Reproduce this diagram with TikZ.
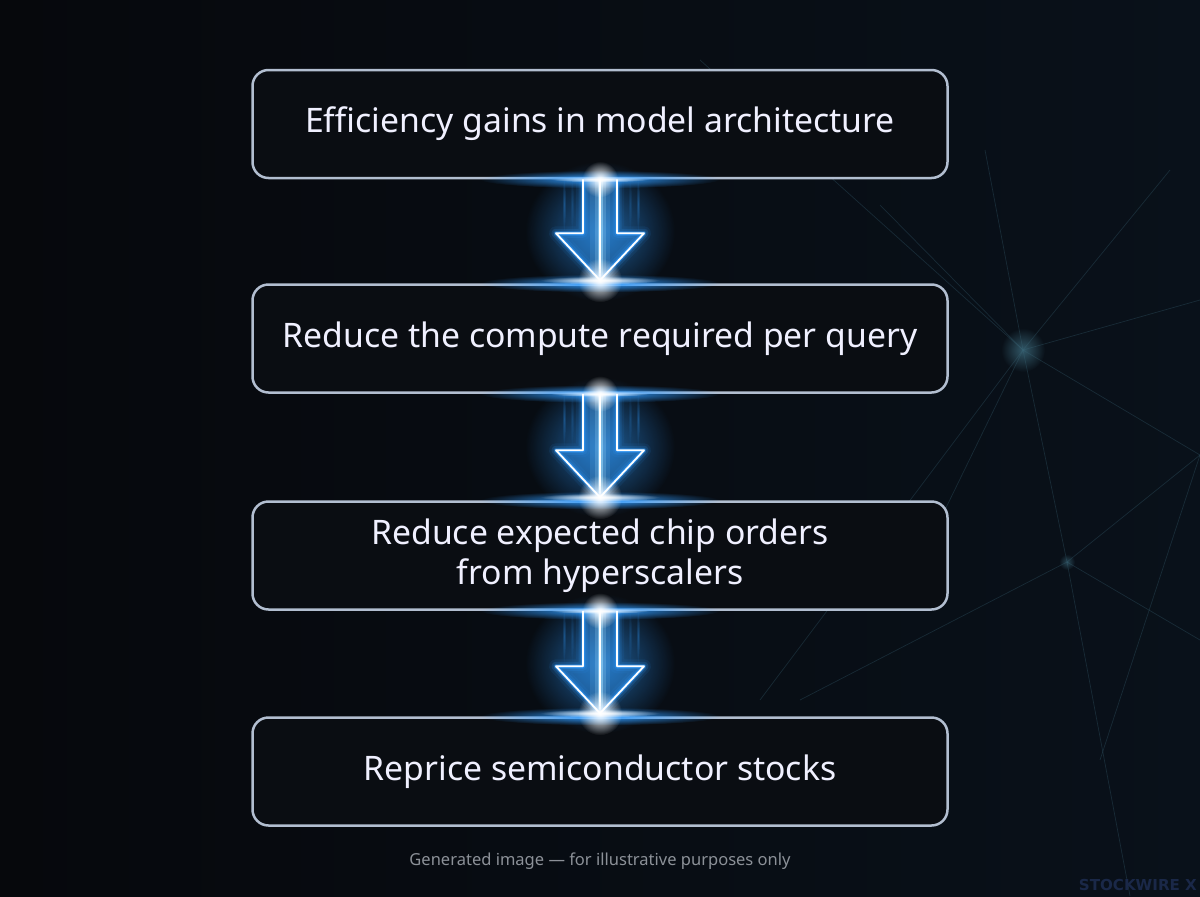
\documentclass[tikz,border=0pt]{standalone}
\usepackage{fontspec}
\setmainfont{Noto Sans}
\newfontfamily\brandfont{DejaVu Sans}
\usetikzlibrary{calc,fadings}
\definecolor{bgdark}{HTML}{06080C}
\definecolor{bgright}{HTML}{09111A}
\definecolor{boxfill}{HTML}{0A0D12}
\definecolor{boxline}{HTML}{B2BED0}
\definecolor{glowblue}{HTML}{2F9BFF}
\definecolor{glowcyan}{HTML}{A8E2FF}
\definecolor{starline}{HTML}{3C6A7C}
\definecolor{notegray}{HTML}{8C9198}
\definecolor{markblue}{HTML}{1A2848}
\tikzfading[name=softglow, inner color=transparent!0, outer color=transparent!100]
\begin{document}
\begin{tikzpicture}[
  x=0.02cm,
  y=-0.02cm,
  stepbox/.style={draw=boxline, fill=boxfill, line width=2.5*0.02cm, rounded corners=16*0.02cm,
    minimum width=695*0.02cm, minimum height=108*0.02cm, align=center, text=white!94!blue,
    font=\fontsize{19.2}{23}\selectfont},
  star/.style={starline, line width=0.7*0.02cm, opacity=0.3},
  note/.style={text=notegray, font=\fontsize{9.4}{11}\selectfont}
]
\useasboundingbox (0,0) rectangle (1200,896);
\shade[left color=bgdark, right color=bgright] (0,0) rectangle (1200,896);

% faint constellation on the right
\coordinate (hub) at (1023,350);
\coordinate (low) at (1067,562);
\coordinate (edge) at (1200,455);
\foreach \p in {(700,60), (880,205), (985,150), (1170,170), (1200,300), (940,520), (760,700)} {
  \draw[star] (hub) -- \p;
}
\draw[star] (hub) -- (edge);
\draw[star] (hub) -- (low);
\draw[star] (low) -- (edge);
\draw[star] (low) -- (800,700);
\draw[star] (low) -- (1200,640);
\draw[star] (low) -- (1130,896);
\draw[star] (edge) -- (1100,760);
\fill[starline, path fading=softglow, opacity=0.8] (hub) circle (22);
\fill[starline, path fading=softglow, opacity=0.6] (low) circle (8);

\node[stepbox] (gains) at (600,124) {Efficiency gains in model architecture};
\node[stepbox] (compute) at (600,338.5) {Reduce the compute required per query};
\node[stepbox] (orders) at (600,555.5) {Reduce expected chip orders\\from hyperscalers};
\node[stepbox] (reprice) at (600,771.5) {Reprice semiconductor stocks};

\foreach \a/\b in {gains/compute, compute/orders, orders/reprice} {
  % flares on the box edges
  \fill[glowblue, path fading=softglow] (\a.south) ellipse (120 and 9);
  \fill[glowblue, path fading=softglow] (\b.north) ellipse (120 and 9);
  \fill[glowblue, path fading=softglow, opacity=0.6] ($(\a.south)!0.5!(\b.north)$) ellipse (75 and 70);
  % light streaks
  \foreach \dx/\o in {-36/0.35, -28/0.2, 30/0.2, 38/0.35} {
    \fill[glowblue, path fading=softglow, opacity=\o] ($(\a.south)+(\dx,25)$) ellipse (2 and 28);
  }
  % inner light
  \fill[glowblue, opacity=0.4] ($(\a.south)+(-17,0)$) -- ($(\b.north)+(-17,-50)$) -- ($(\b.north)+(-44,-50)$)
    -- ($(\b.north)+(0,-3)$) -- ($(\b.north)+(44,-50)$) -- ($(\b.north)+(17,-50)$) -- ($(\a.south)+(17,0)$) -- cycle;
  \foreach \w/\o in {20/0.1, 11/0.22, 5/0.5} {
    \draw[glowcyan, line width=\w*0.02cm, opacity=\o] (\a.south) -- ($(\b.north)+(0,-3)$);
  }
  \draw[white, line width=2*0.02cm] (\a.south) -- ($(\b.north)+(0,-3)$);
  % outline with glow
  \foreach \w/\o in {14/0.08, 9/0.16, 5/0.32, 3/0.65} {
    \draw[glowblue, line width=\w*0.02cm, opacity=\o, line join=round]
      ($(\a.south)+(-17,0)$) -- ($(\b.north)+(-17,-50)$) -- ($(\b.north)+(-44,-50)$)
      -- ($(\b.north)+(0,-3)$) -- ($(\b.north)+(44,-50)$) -- ($(\b.north)+(17,-50)$) -- ($(\a.south)+(17,0)$);
  }
  \draw[white, line width=1.8*0.02cm, line join=round]
    ($(\a.south)+(-17,0)$) -- ($(\b.north)+(-17,-50)$) -- ($(\b.north)+(-44,-50)$)
    -- ($(\b.north)+(0,-3)$) -- ($(\b.north)+(44,-50)$) -- ($(\b.north)+(17,-50)$) -- ($(\a.south)+(17,0)$);
  % glow spots
  \fill[white, path fading=softglow] ($(\b.north)+(0,-3)$) circle (22);
  \fill[white, path fading=softglow] (\a.south) circle (18);
  \fill[white, path fading=softglow] ($(\b.north)+(0,-3)$) ellipse (60 and 4);
  \fill[white, path fading=softglow] (\a.south) ellipse (50 and 3);
}

\node[note] (disclaimer) at (600,861) {Generated image — for illustrative purposes only};
\node[anchor=east, inner sep=1pt, text=markblue, font=\brandfont\bfseries\fontsize{8.6}{10}\selectfont] (brand) at (1199,885) {STOCKWIRE X};
\end{tikzpicture}
\end{document}
